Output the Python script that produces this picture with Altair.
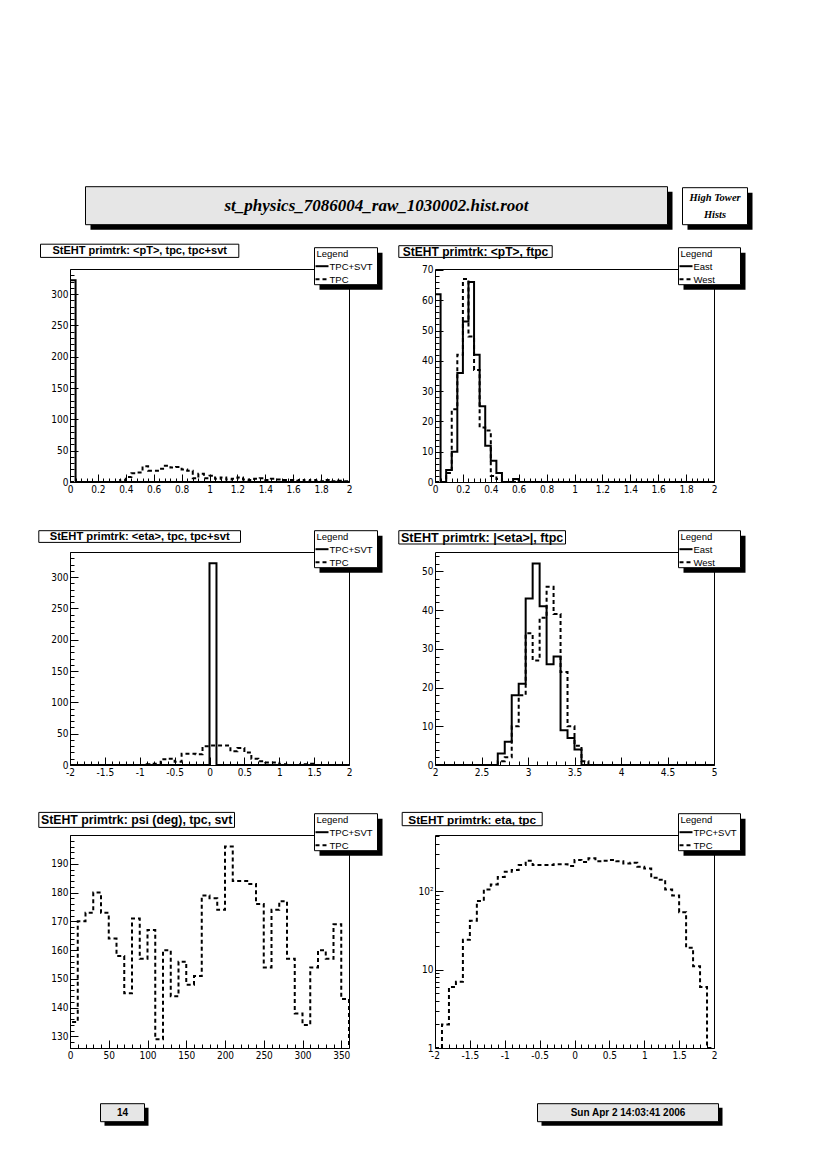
import math
import altair as alt
import pandas as pd

# ---------------- texts ----------------
FILE_TITLE = "st_physics_7086004_raw_1030002.hist.root"
BOX_LINES = ["High Tower", "Hists"]
PAGE_NO = "14"
DATE_TEXT = "Sun Apr  2 14:03:41 2006"
TITLES = [
    "StEHT primtrk: <pT>, tpc, tpc+svt",
    "StEHT primtrk: <pT>, ftpc",
    "StEHT primtrk: <eta>, tpc, tpc+svt",
    "StEHT primtrk: |<eta>|, ftpc",
    "StEHT primtrk: psi (deg), tpc, svt",
    "StEHT primtrk: eta, tpc",
]
LEG_TPC = ["TPC+SVT", "TPC"]
LEG_FTPC = ["East", "West"]

# ---------------- binning (first edge, bin width) ----------------
PT_BIN = (0.0, 0.04)      # 50 bins on [0, 2]
ETA_BIN = (-2.0, 0.1)     # 40 bins on [-2, 2]
AETA_BIN = (2.0, 0.075)   # 40 bins on [2, 5]
PSI_BIN = (0.0, 10.0)     # 36 bins on [0, 360]

# ---------------- bin contents ----------------
P1_TPCSVT = [322, 0, 0, 0, 0, 0, 0, 0, 0, 0,
             0, 0, 0, 0, 0, 0, 0, 0, 0, 0,
             0, 0, 0, 0, 0, 0, 0, 0, 0, 0,
             0, 0, 0, 0, 0, 0, 0, 0, 0, 0,
             0, 0, 0, 0, 0, 0, 0, 0, 0, 0]
P1_TPC = [0, 0, 0, 0, 0, 0, 0, 0, 0, 3,
          8, 14, 15, 25, 18, 18, 21, 26, 23, 24,
          20, 18, 6, 13, 6, 10, 5, 7, 4, 5,
          7, 4, 3, 5, 6, 3, 5, 4, 3, 3,
          2, 3, 1, 3, 2, 1, 3, 1, 2, 1]

P2_EAST = [62, 0, 4, 10, 36, 53, 66, 42, 25, 12,
           7, 3, 0, 0, 1, 0, 0, 0, 0, 0,
           0, 0, 0, 0, 0, 0, 0, 0, 0, 0,
           0, 0, 0, 0, 0, 0, 0, 0, 0, 0,
           0, 0, 0, 0, 0, 0, 0, 0, 0, 0]
P2_WEST = [0, 0, 3, 24, 42, 67, 48, 37, 18, 17,
           2, 1, 0, 0, 0, 0, 0, 0, 0, 0,
           0, 0, 0, 0, 0, 0, 0, 0, 0, 0,
           0, 0, 0, 0, 0, 0, 0, 0, 0, 0,
           0, 0, 0, 0, 0, 0, 0, 0, 0, 0]

P3_TPCSVT = [0, 0, 0, 0, 0, 0, 0, 0, 0, 0,
             0, 0, 0, 0, 0, 0, 0, 0, 0, 0,
             322, 0, 0, 0, 0, 0, 0, 0, 0, 0,
             0, 0, 0, 0, 0, 0, 0, 0, 0, 0]
P3_TPC = [0, 0, 0, 0, 0, 0, 0, 0, 0, 0,
          0, 1, 2, 9, 10, 5, 18, 18, 17, 30,
          31, 31, 31, 22, 27, 20, 10, 6, 4, 4,
          1, 0, 0, 1, 2, 0, 0, 0, 0, 0]

P4_EAST = [0, 0, 0, 0, 0, 0, 0, 0, 0, 3,
           6, 18, 21, 43, 52, 41, 26, 28, 9, 7,
           4, 0, 0, 0, 0, 0, 0, 0, 0, 0,
           0, 0, 0, 0, 0, 0, 0, 0, 0, 0]
P4_WEST = [0, 0, 0, 0, 0, 0, 0, 0, 0, 1,
           2, 10, 18, 34, 27, 38, 46, 39, 24, 10,
           5, 1, 0, 0, 0, 0, 0, 0, 0, 0,
           0, 0, 0, 0, 0, 0, 0, 0, 0, 0]

P5_TPC = [135, 170, 173, 180, 173, 164, 158, 145, 171, 157,
          167, 129, 160, 144, 156, 148, 151, 179, 178, 174,
          196, 184, 184, 183, 176, 154, 174, 177, 157, 138,
          134, 154, 160, 157, 169, 143]

P6_TPC = [0, 2, 6, 7, 24, 42, 75, 105, 122, 152,
          177, 186, 215, 244, 215, 215, 215, 220, 220, 210,
          250, 235, 262, 240, 245, 250, 240, 225, 230, 205,
          195, 148, 140, 105, 88, 54, 19, 11, 6, 0]

# ---------------- axis ranges and labelled ticks ----------------
PT_RANGE = [0, 2]
ETA_RANGE = [-2, 2]
AETA_RANGE = [2, 5]
PSI_RANGE = [0, 360]
PT_TICKS = [0, 0.2, 0.4, 0.6, 0.8, 1, 1.2, 1.4, 1.6, 1.8, 2]
ETA_TICKS = [-2, -1.5, -1, -0.5, 0, 0.5, 1, 1.5, 2]
AETA_TICKS = [2, 2.5, 3, 3.5, 4, 4.5, 5]
PSI_TICKS = [0, 50, 100, 150, 200, 250, 300, 350]
Y1_RANGE, Y1_TICKS = [0, 340], [0, 50, 100, 150, 200, 250, 300]
Y2_RANGE, Y2_TICKS = [0, 70.3], [0, 10, 20, 30, 40, 50, 60, 70]
Y3_RANGE, Y3_TICKS = [0, 340], [0, 50, 100, 150, 200, 250, 300]
Y4_RANGE, Y4_TICKS = [0, 55], [0, 10, 20, 30, 40, 50]
Y5_RANGE, Y5_TICKS = [126, 200], [130, 140, 150, 160, 170, 180, 190]
Y6_RANGE, Y6_TICKS = [1, 520], [1, 10, 100]

# ---------------- layout / style ----------------
W, H = 279, 213
COL_X = [69.5, 434.5]          # page x of plot-area left edges
ROW_Y = [268.3, 551.3, 834.3]  # page y of plot-area top edges
AX_FONT = "Liberation Sans Narrow, DejaVu Sans Condensed, Liberation Sans, sans-serif"
SANS = "Liberation Sans, Arial, Helvetica, sans-serif"
SERIF = "Liberation Serif, Times New Roman, serif"
DASH = [4, 3]
GRAY = "#e6e6e6"
ONE = pd.DataFrame({"k": [0]})


def step_table(series, base):
    rows = []
    for name, (x0, bw), vals in series:
        n = len(vals)
        pts = [(x0, base)] + [(x0 + k * bw, v) for k, v in enumerate(vals)]
        pts += [(x0 + n * bw, vals[-1]), (x0 + n * bw, base)]
        for i, (x, y) in enumerate(pts):
            rows.append({"s": name, "i": i, "x": round(x, 6), "y": max(y, base)})
    return pd.DataFrame(rows)


def minor_ticks(major, nsub, lo, hi):
    step = (major[1] - major[0]) / nsub
    out = []
    for n in range(-400, 400):
        v = major[0] + n * step
        if lo - 1e-9 <= v <= hi + 1e-9 and all(abs(v - m) > 1e-9 for m in major):
            out.append(round(v, 6))
    return out


def log_minor(lo, hi):
    return [m * 10 ** e for e in range(0, 4) for m in range(2, 10) if lo <= m * 10 ** e <= hi]


def rect(x1, y1, x2, y2, fill, stroke=True):
    kw = dict(fill=fill)
    if stroke:
        kw.update(stroke="black", strokeWidth=1)
    else:
        kw.update(strokeWidth=0)
    return alt.Chart(ONE).mark_rect(**kw).encode(
        x=alt.value(x1), x2=alt.value(x2), y=alt.value(y1), y2=alt.value(y2))


def text(x, y, s, font, size, weight="normal", style="normal", align="center"):
    return alt.Chart(ONE).mark_text(
        font=font, fontSize=size, fontWeight=weight, fontStyle=style,
        align=align, baseline="middle", color="black",
    ).encode(x=alt.value(x), y=alt.value(y), text=alt.value(s))


def rule(x1, x2, y, dash=None):
    kw = dict(color="black", strokeWidth=2)
    if dash:
        kw["strokeDash"] = dash
    return alt.Chart(ONE).mark_rule(**kw).encode(x=alt.value(x1), x2=alt.value(x2), y=alt.value(y))


def major_axis(orient, values, expr):
    return alt.Axis(orient=orient, values=values, tickSize=8, offset=-8, domain=False, grid=False,
                    labelPadding=2, labelFlush=False, labelOverlap=False, labelBound=False, title=None,
                    labelExpr=expr, labelFont=AX_FONT, labelFontSize=10, labelColor="black",
                    tickColor="black", tickWidth=1)


def minor_axis(orient, values):
    return alt.Axis(orient=orient, values=values, tickSize=4, offset=-4, domain=False, grid=False,
                    labels=False, title=None, tickColor="black", tickWidth=1)


LEG_X = [(314, 377), (678, 740)]
LEG_Y = [(247, 284), (530, 567), (813, 850)]


def panel(col, row, title, tbox, tsize, labels, series, xdom, ydom, xt, xsub, yt, ysub,
          ylog=False, extra=None):
    base = ydom[0]
    df = step_table(series, base)
    xs = alt.Scale(domain=xdom, nice=False, zero=False)
    if ylog:
        ys = alt.Scale(type="log", domain=ydom, nice=False)
        ymin = log_minor(*ydom)
        yexpr = "datum.value == 100 ? '10\u00b2' : toString(datum.value)"
    else:
        ys = alt.Scale(domain=ydom, nice=False, zero=False)
        ymin = minor_ticks(yt, ysub, *ydom)
        yexpr = "toString(datum.value)"
    xmin = minor_ticks(xt, xsub, *xdom)

    hist = alt.Chart(df).mark_line(interpolate="step-after", strokeWidth=2, color="black", clip=True).encode(
        x=alt.X("x:Q", scale=xs, axis=major_axis("bottom", xt, "toString(datum.value)")),
        y=alt.Y("y:Q", scale=ys, axis=major_axis("left", yt, yexpr)),
        strokeDash=alt.StrokeDash("s:N", scale=alt.Scale(domain=labels, range=[[1, 0], DASH]), legend=None),
        order=alt.Order("i:Q"),
    )
    ticks = alt.Chart(df).mark_line(strokeOpacity=0).encode(
        x=alt.X("x:Q", scale=xs, axis=minor_axis("bottom", xmin)),
        y=alt.Y("y:Q", scale=ys, axis=minor_axis("left", ymin)),
        detail="s:N",
    )
    ox, oy = COL_X[col], ROW_Y[row]

    def L(v):
        return v - ox

    def T(v):
        return v - oy

    layers = [hist, ticks]
    x1, y1, x2, y2 = tbox
    layers += [rect(L(x1), T(y1), L(x2), T(y2), "white"),
               text((L(x1) + L(x2)) / 2, (T(y1) + T(y2)) / 2 + 0.5, title, SANS, tsize, "bold")]
    lx1, lx2 = LEG_X[col]
    ly1, ly2 = LEG_Y[row]
    layers += [
        rect(L(lx1) + 5, T(ly1) + 5, L(lx2) + 5, T(ly2) + 5, "black", stroke=False),
        rect(L(lx1), T(ly1), L(lx2), T(ly2), "white"),
        text(L(lx1) + 2, T(ly1) + 6, "Legend", SANS, 9.5, align="left"),
        rule(L(lx1) + 1, L(lx1) + 14, T(ly1) + 18.5),
        text(L(lx1) + 15, T(ly1) + 19, labels[0], SANS, 9.5, align="left"),
        rule(L(lx1) + 1, L(lx1) + 14, T(ly1) + 31.5, DASH),
        text(L(lx1) + 15, T(ly1) + 32, labels[1], SANS, 9.5, align="left"),
    ]
    if extra:
        layers += extra(L, T)
    return alt.layer(*layers).resolve_axis(x="independent", y="independent").properties(width=W, height=H)


def page_decor(L, T):
    return [
        # anchor at the page's top-left corner (inside the 8px margin)
        rect(L(8), T(8), L(9), T(9), "white", stroke=False),
        # header
        rect(L(90), T(191), L(672), T(229), "black", stroke=False),
        rect(L(85), T(186), L(667), T(224), GRAY),
        text(L(376), T(205.5), FILE_TITLE, SERIF, 17, "bold", "italic"),
        rect(L(687), T(192), L(752), T(229), "black", stroke=False),
        rect(L(682), T(187), L(747), T(224), "white"),
        text(L(714.5), T(197.5), BOX_LINES[0], SERIF, 10.5, "bold", "italic"),
        text(L(714.5), T(214.5), BOX_LINES[1], SERIF, 10.5, "bold", "italic"),
        # footer
        rect(L(104), T(1107), L(148), T(1125), "black", stroke=False),
        rect(L(100), T(1103), L(144), T(1121), GRAY),
        text(L(122), T(1112.5), PAGE_NO, SANS, 10, "bold"),
        rect(L(541), T(1107), L(722), T(1125), "black", stroke=False),
        rect(L(537), T(1103), L(718), T(1121), GRAY),
        text(L(627.5), T(1112.5), DATE_TEXT, SANS, 10, "bold"),
    ]


p1 = panel(0, 0, TITLES[0], (40, 243.5, 238.3, 256.7), 11, LEG_TPC,
           [(LEG_TPC[0], PT_BIN, P1_TPCSVT), (LEG_TPC[1], PT_BIN, P1_TPC)],
           PT_RANGE, Y1_RANGE, PT_TICKS, 5, Y1_TICKS, 5, extra=page_decor)
p2 = panel(1, 0, TITLES[1], (398.3, 245, 551.7, 256.7), 12, LEG_FTPC,
           [(LEG_FTPC[0], PT_BIN, P2_EAST), (LEG_FTPC[1], PT_BIN, P2_WEST)],
           PT_RANGE, Y2_RANGE, PT_TICKS, 5, Y2_TICKS, 5)
p3 = panel(0, 1, TITLES[2], (38.3, 530, 240, 541.7), 11.2, LEG_TPC,
           [(LEG_TPC[0], ETA_BIN, P3_TPCSVT), (LEG_TPC[1], ETA_BIN, P3_TPC)],
           ETA_RANGE, Y3_RANGE, ETA_TICKS, 5, Y3_TICKS, 5)
p4 = panel(1, 1, TITLES[3], (398.3, 530, 565, 543.3), 12.6, LEG_FTPC,
           [(LEG_FTPC[0], AETA_BIN, P4_EAST), (LEG_FTPC[1], AETA_BIN, P4_WEST)],
           AETA_RANGE, Y4_RANGE, AETA_TICKS, 5, Y4_TICKS, 5)
p5 = panel(0, 2, TITLES[4], (38.3, 811.7, 234, 826.7), 12.3, LEG_TPC,
           [(LEG_TPC[1], PSI_BIN, P5_TPC)],
           PSI_RANGE, Y5_RANGE, PSI_TICKS, 5, Y5_TICKS, 5)
p6 = panel(1, 2, TITLES[5], (401.7, 811.7, 541.7, 825), 11.8, LEG_TPC,
           [(LEG_TPC[1], ETA_BIN, P6_TPC)],
           ETA_RANGE, Y6_RANGE, ETA_TICKS, 5, Y6_TICKS, 1, ylog=True)

chart = alt.concat(p1, p2, p3, p4, p5, p6, columns=2, spacing={"row": 70, "column": 86},
                   bounds="flush").properties(padding=0, background="white").configure_view(
    stroke="black", strokeWidth=1)

chart.save("out.html", embed_options={"renderer": "svg", "actions": False})
